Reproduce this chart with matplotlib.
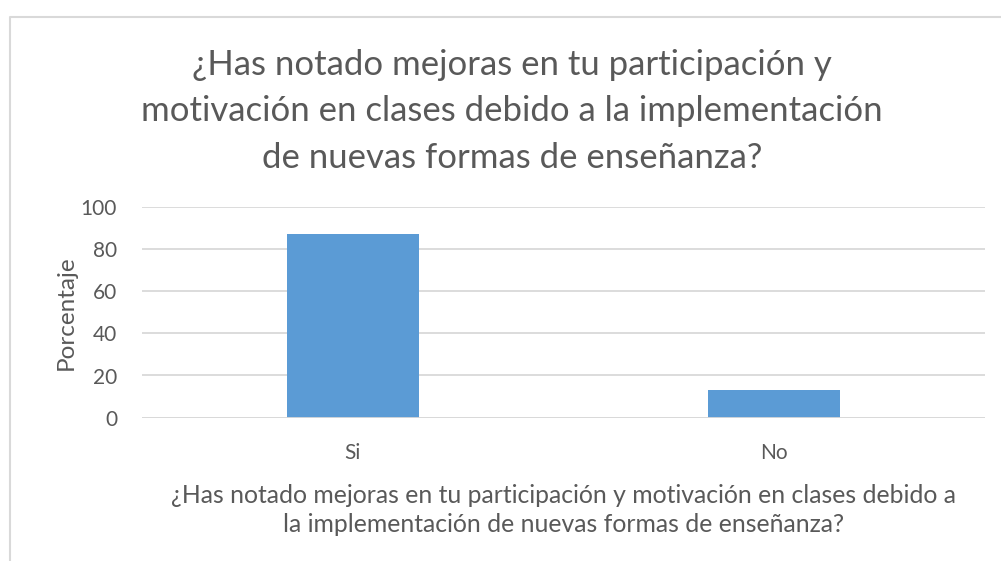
import matplotlib.pyplot as plt
from matplotlib.lines import Line2D

categories = ["Si", "No"]
porcentaje = [87, 13]
y_ticks = [0, 20, 40, 60, 80, 100]

title = ("¿Has notado mejoras en tu participación y\n"
         "motivación en clases debido a la implementación\n"
         "de nuevas formas de enseñanza?")
x_title = ("¿Has notado mejoras en tu participación y motivación en clases debido a\n"
           "la implementación de nuevas formas de enseñanza?")

text_color = "#595959"
grid_color = "#d9d9d9"
bar_color = "#5b9bd5"

plt.rcParams['font.family'] = ['Lato', 'DejaVu Sans']

fig = plt.figure(figsize=(10.01, 5.61), dpi=100)
W, H = 1001, 561
ax = fig.add_axes([142 / W, 1 - 417.7 / H, (985 - 142) / W, (417.7 - 206.7) / H])

ax.bar(range(len(categories)), porcentaje, width=0.313, color=bar_color, zorder=3)
ax.set_xlim(-0.5, len(categories) - 0.5)
ax.set_ylim(0, 100)
ax.set_yticks(y_ticks)
ax.set_xticks(range(len(categories)))
ax.set_xticklabels(categories)
ax.tick_params(axis='both', length=0, colors=text_color, labelsize=15)
ax.tick_params(axis='x', pad=18)
ax.tick_params(axis='y', pad=18)
ax.yaxis.grid(True, color=grid_color, linewidth=1.3, zorder=0)
for s in ax.spines.values():
    s.set_visible(False)
ax.axhline(0, color=grid_color, linewidth=1.3, zorder=4)

ax.set_ylabel("Porcentaje", fontsize=17.5, color=text_color, labelpad=3)
ax.set_xlabel(x_title, fontsize=17.8, color=text_color, labelpad=15, linespacing=1.35)

fig.text(512 / W, 1 - 49 / H, title, ha='center', va='top', fontsize=25,
         color=text_color, linespacing=1.55)

# chart frame
fx, fy = 9.5 / W, 1 - 16.5 / H
fig.add_artist(Line2D([fx, fx, 1], [0, fy, fy], transform=fig.transFigure,
                      color="#d9d9d9", linewidth=1.5))

fig.savefig("out.png", dpi=100)
